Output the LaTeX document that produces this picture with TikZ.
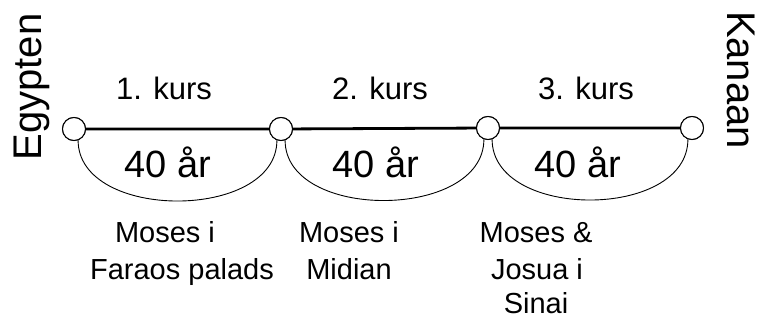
\documentclass[tikz,border=0pt]{standalone}
\usepackage{fontspec}
\setmainfont{Liberation Sans}
\begin{document}
\begin{tikzpicture}[x=1pt,y=-1pt,
  stop/.style={circle,draw,line width=1pt,fill=white,minimum size=23pt,inner sep=0pt},
  kurs/.style={anchor=base,font=\fontsize{31}{31}\selectfont},
  years/.style={anchor=base,font=\fontsize{38}{38}\selectfont},
  who/.style={anchor=base,font=\fontsize{29}{29}\selectfont},
  place/.style={anchor=base,font=\fontsize{40}{40}\selectfont},
  arcline/.style={line width=0.9pt}]
\useasboundingbox (0,0) rectangle (758,320);
\node[stop] (c1) at (74,129) {};
\node[stop] (c2) at (281,129) {};
\node[stop] (c3) at (488,128) {};
\node[stop] (c4) at (692,128) {};
\draw[line width=2.8pt] (c1) -- (c2) -- (c3) -- (c4);
\node[stop] at (c1) {};
\node[stop] at (c2) {};
\node[stop] at (c3) {};
\node[stop] at (c4) {};
\draw[arcline] (c1.-70) .. controls +(0,81) and +(0,81) .. (c2.-110);
\draw[arcline] (c2.-70) .. controls +(0,81) and +(0,81) .. (c3.-110);
\draw[arcline] (c3.-70) .. controls +(0,81) and +(0,81) .. (c4.-110);
\node[kurs] (k1) at (164,100) {1. kurs};
\node[kurs] (k2) at (380,100) {2. kurs};
\node[kurs] (k3) at (586,100) {3. kurs};
\node[years] (y1) at (168,178) {40 år};
\node[years] (y2) at (376,178) {40 år};
\node[years] (y3) at (578,178) {40 år};
\node[who] (a1) at (165,243) {Moses i};
\node[who] (a2) at (182,280) {Faraos palads};
\node[who] (b1) at (349,243) {Moses i};
\node[who] (b2) at (349,280) {Midian};
\node[who] (d1) at (536,243) {Moses \&};
\node[who] (d2) at (537,280) {Josua i};
\node[who] (d3) at (536,314) {Sinai};
\node[place,rotate=90] (eg) at (41,87) {Egypten};
\node[place,rotate=-90] (ka) at (727,80) {Kanaan};
\end{tikzpicture}
\end{document}
